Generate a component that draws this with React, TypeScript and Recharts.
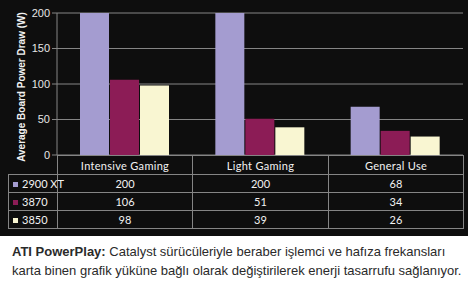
import React from 'react';
import { BarChart, Bar, XAxis, YAxis, CartesianGrid } from 'recharts';

const categories = ['Intensive Gaming', 'Light Gaming', 'General Use'];
const seriesNames = ['2900 XT', '3870', '3850'];
const hd2900xt = [200, 200, 68];
const hd3870 = [106, 51, 34];
const hd3850 = [98, 39, 26];
const yTicks = [0, 50, 100, 150, 200];
const yTitle = 'Average Board Power Draw (W)';

const COLORS = ['#a49cd0', '#8c1c56', '#f9f6d2'];
const GRID = '#858585';

const data = categories.map((name, i) => ({
  name,
  s0: hd2900xt[i],
  s1: hd3870[i],
  s2: hd3850[i],
}));
const rows = [hd2900xt, hd3870, hd3850];

const cell: React.CSSProperties = {
  border: `1px solid ${GRID}`,
  padding: 0,
  textAlign: 'center',
  color: '#f2f2f2',
};

// rotated axis title, placed from the axis viewBox
const AxisTitle = (props: any) => {
  const vb = props.viewBox || { x: 0, y: 13, width: 57, height: 142 };
  const cx = vb.x + 21;
  const cy = vb.y + vb.height / 2 + 3;
  return (
    <text
      x={cx}
      y={cy}
      transform={`rotate(-90 ${cx} ${cy})`}
      textAnchor="middle"
      dominantBaseline="central"
      fill="#f2f2f2"
      fontSize={10}
      fontWeight="bold"
      fontFamily="Liberation Sans, Arial"
    >
      {yTitle}
    </text>
  );
};

export default function App() {
  return (
    <div style={{ position: 'absolute', left: 0, top: 0, width: 468, height: 292, background: '#fff', overflow: 'hidden' }}>
      <div style={{ position: 'absolute', left: 0, top: 0, width: 468, height: 236, background: '#0e0e0e' }}>
        <BarChart
          width={468}
          height={164}
          data={data}
          margin={{ top: 13, right: 5, left: 0, bottom: 9 }}
          barSize={29}
          barGap={1}
        >
          <CartesianGrid vertical={false} stroke={GRID} />
          <XAxis dataKey="name" hide />
          <YAxis
            domain={[0, 200]}
            ticks={yTicks}
            interval={0}
            width={57}
            axisLine={{ stroke: GRID }}
            tickLine={{ stroke: GRID }}
            tickSize={5}
            tickMargin={2}
            tick={{ fill: '#e6e6e6', fontSize: 11, fontFamily: 'Liberation Sans, Arial' }}
            label={{ content: AxisTitle }}
          />
          <YAxis yAxisId="right" orientation="right" width={0} domain={[0, 200]} tick={false} tickLine={false} axisLine={{ stroke: GRID }} />
          <Bar dataKey="s0" name={seriesNames[0]} fill={COLORS[0]} isAnimationActive={false} />
          <Bar dataKey="s1" name={seriesNames[1]} fill={COLORS[1]} isAnimationActive={false} />
          <Bar dataKey="s2" name={seriesNames[2]} fill={COLORS[2]} isAnimationActive={false} />
        </BarChart>
        <table
          style={{
            position: 'absolute',
            left: 8,
            top: 155,
            borderCollapse: 'collapse',
            tableLayout: 'fixed',
            width: 456,
            fontFamily: 'Lato, sans-serif',
            fontSize: 11,
          }}
        >
          <colgroup>
            <col style={{ width: 49 }} />
            <col style={{ width: 135 }} />
            <col style={{ width: 136 }} />
            <col style={{ width: 135 }} />
          </colgroup>
          <tbody>
            <tr style={{ height: 19 }}>
              <td style={{ padding: 0, border: 'none' }} />
              {categories.map((c) => (
                <td key={c} style={{ ...cell, letterSpacing: 0.3 }}>{c}</td>
              ))}
            </tr>
            {rows.map((vals, r) => (
              <tr key={seriesNames[r]} style={{ height: 18 }}>
                <td style={{ ...cell, textAlign: 'left', whiteSpace: 'nowrap' }}>
                  <span style={{ display: 'inline-block', width: 5, height: 5, background: COLORS[r], margin: '0 4px 1px 4px' }} />
                  {seriesNames[r]}
                </td>
                {vals.map((v, i) => (
                  <td key={i} style={cell}>{v}</td>
                ))}
              </tr>
            ))}
          </tbody>
        </table>
      </div>
      <div
        style={{
          position: 'absolute',
          left: 12,
          top: 242,
          width: 456,
          fontFamily: 'Liberation Sans, Arial, sans-serif',
          fontSize: 13,
          lineHeight: '19px',
          color: '#2a2a2a',
        }}
      >
        <b>ATI PowerPlay:</b> Catalyst sürücüleriyle beraber işlemci ve hafıza frekansları karta binen grafik yüküne bağlı olarak değiştirilerek enerji tasarrufu sağlanıyor.
      </div>
    </div>
  );
}
